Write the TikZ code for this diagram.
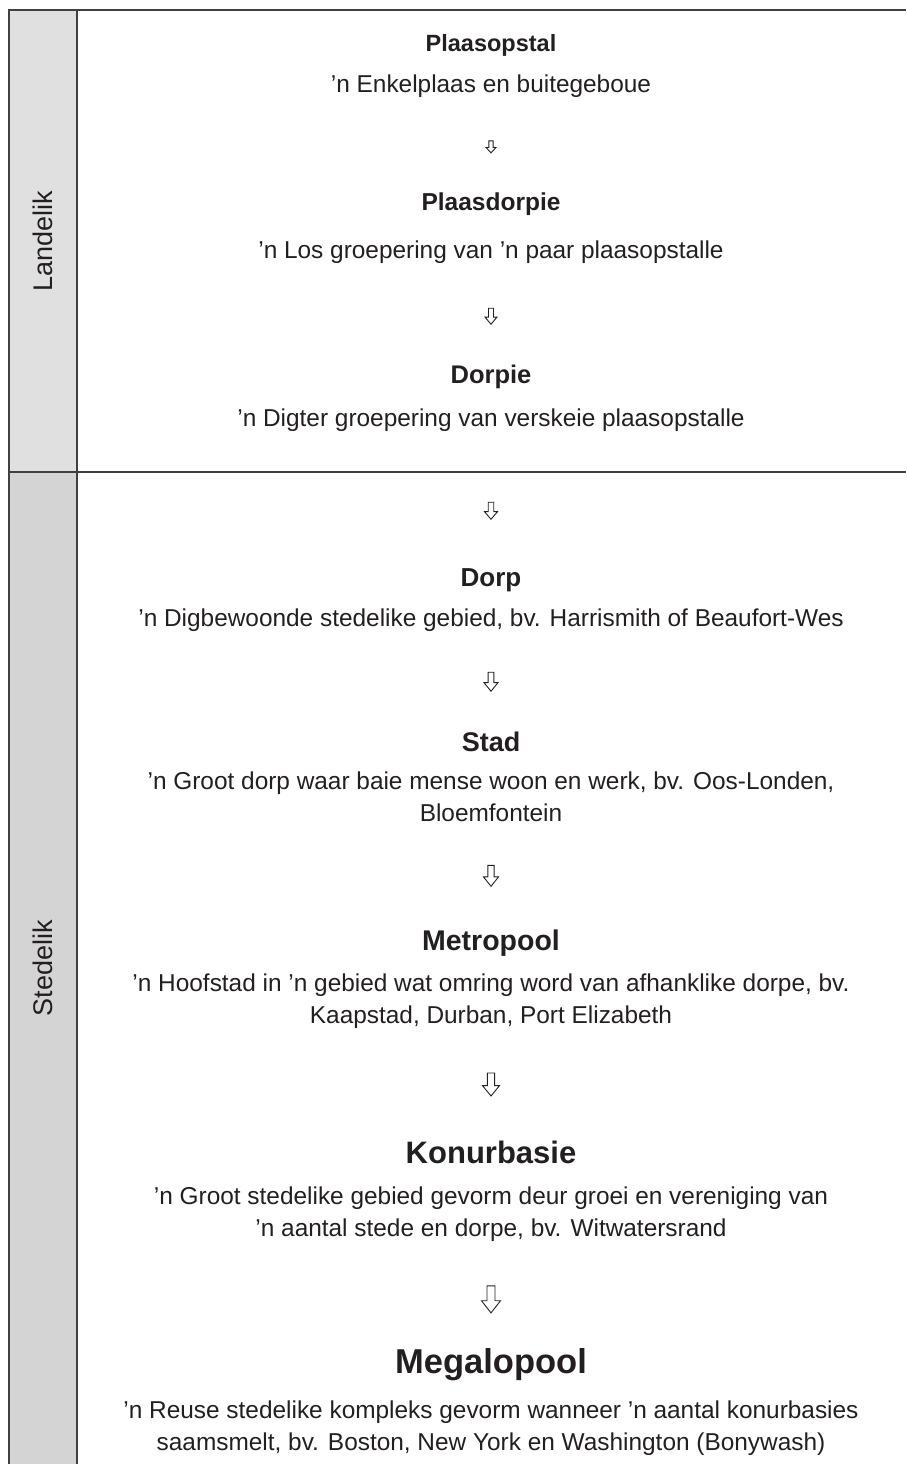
\documentclass[tikz,border=0pt]{standalone}
\usepackage{fontspec}
\setmainfont{Liberation Sans}
\definecolor{ruleline}{HTML}{404040}
\definecolor{landgrey}{HTML}{E0E0E0}
\definecolor{stadgrey}{HTML}{D4D4D4}
\definecolor{inkcol}{HTML}{231F20}
\tikzset{
  title/.style={font=\bfseries\fontsize{#1}{#1}\selectfont, text=inkcol, inner sep=0pt},
  descr/.style={font=\fontsize{24.4}{32}\selectfont, text=inkcol, inner sep=0pt, align=center},
  sidelabel/.style={rotate=90, text=inkcol, font=\fontsize{27}{30}\selectfont},
  % outlined block arrow: length / head width
  pics/stagearrow/.style args={#1/#2}{code={
    \draw[inkcol, line width=0.9pt, line join=miter]
      (-0.21*#2,-#1/2) -- (0.21*#2,-#1/2) -- (0.21*#2,-#1/2+0.55*#1) -- (#2/2,-#1/2+0.55*#1)
      -- (0,#1/2) -- (-#2/2,-#1/2+0.55*#1) -- (-0.21*#2,-#1/2+0.55*#1) -- cycle;
  }},
}
\begin{document}
\begin{tikzpicture}[x=1pt,y=-1pt]
    \useasboundingbox (0,0) rectangle (906,1464);
    % side column
    \fill[landgrey] (9,10) rectangle (77,472);
    \fill[stadgrey] (9,472) rectangle (77,1464);
    \draw[ruleline, line width=1.3pt] (906,10) -- (9,10) -- (9,1464);
    \draw[ruleline, line width=1.3pt] (77,10) -- (77,1464);
    \draw[ruleline, line width=1.3pt] (9,472) -- (906,472);
    \node[sidelabel] (land) at (43,241) {Landelik};
    \node[sidelabel] (stad) at (43,968) {Stedelik};

    % rural stages
    \node[title=23.5] (t1) at (491,45) {Plaasopstal};
    \node[descr] (d1) at (491,86) {’n Enkelplaas en buitegeboue};
    \node[title=24.5] (t2) at (491,204) {Plaasdorpie};
    \node[descr] (d2) at (491,252) {’n Los groepering van ’n paar plaasopstalle};
    \node[title=25.5] (t3) at (491,377) {Dorpie};
    \node[descr] (d3) at (491,420) {’n Digter groepering van verskeie plaasopstalle};

    % urban stages
    \node[title=26] (t4) at (491,580) {Dorp};
    \node[descr] (d4) at (491,620) {’n Digbewoonde stedelike gebied, bv. Harrismith of Beaufort-Wes};
    \node[title=27] (t5) at (491,742) {Stad};
    \node[descr] (d5) at (491,797) {’n Groot dorp waar baie mense woon en werk, bv. Oos-Londen,\\ Bloemfontein};
    \node[title=28.5] (t6) at (491,943) {Metropool};
    \node[descr] (d6) at (491,1001) {’n Hoofstad in ’n gebied wat omring word van afhanklike dorpe, bv.\\ Kaapstad, Durban, Port Elizabeth};
    \node[title=31] (t7) at (491,1152) {Konurbasie};
    \node[descr] (d7) at (491,1214) {’n Groot stedelike gebied gevorm deur groei en vereniging van\\ ’n aantal stede en dorpe, bv. Witwatersrand};
    \node[title=34.5] (t8) at (491,1365) {Megalopool};
    \node[descr] (d8) at (491,1428) {’n Reuse stedelike kompleks gevorm wanneer ’n aantal konurbasies\\ saamsmelt, bv. Boston, New York en Washington (Bonywash)};

    % block arrows between the stages
    \foreach \from/\to/\len/\wid/\where [count=\i] in {d1/t2/12/10/0.52, d2/t3/16/12/0.52,
        d3/t4/17/13/0.58, d4/t5/19/14/0.5, d5/t6/21/15/0.5,
        d6/t7/23/17/0.5, d7/t8/27/19/0.54}
    {
        \path (\from) -- coordinate[pos=\where] (a\i) (\to);
        \pic at (a\i) {stagearrow=\len/\wid};
    }
\end{tikzpicture}
\end{document}
